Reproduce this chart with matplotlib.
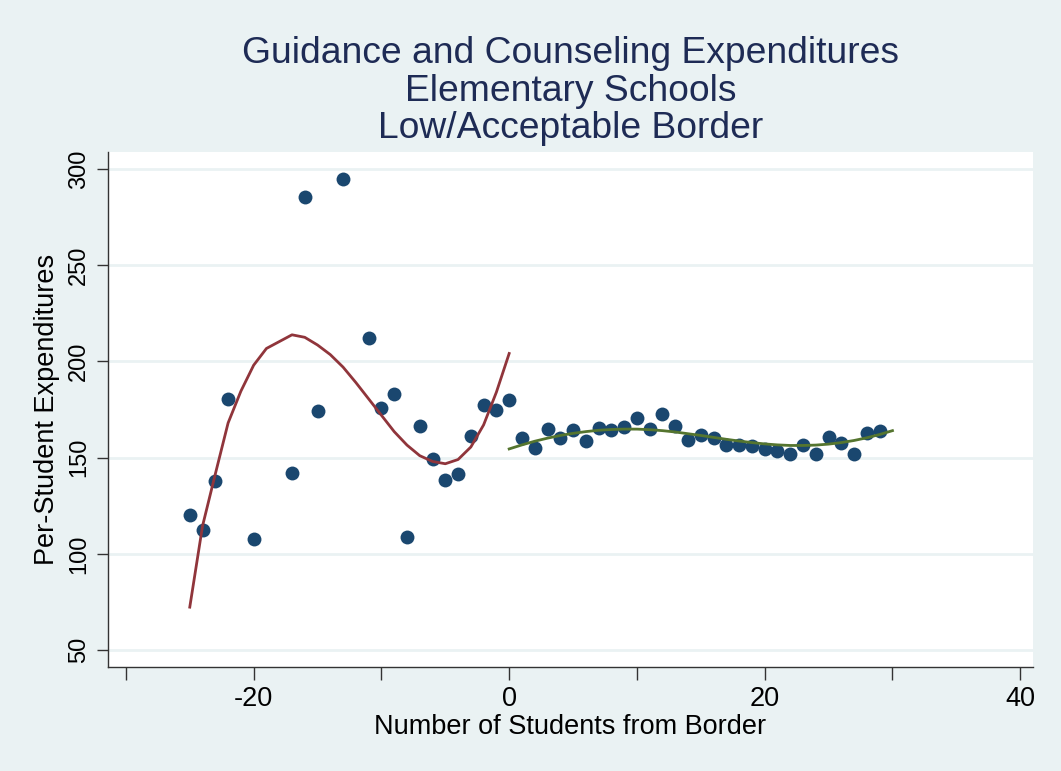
import matplotlib.pyplot as plt

# scatter data (x = students from border, y = per-student expenditures)
left_x = [-25, -24, -23, -22, -20, -17, -16, -15, -13, -11, -10, -9, -8, -7, -6, -5, -4, -3, -2, -1, 0]
left_y = [120.3, 112.2, 137.7, 180.2, 107.8, 142.0, 285.4, 174.1, 295.0, 211.9, 176.0, 182.8, 109.0,
          166.3, 149.5, 138.2, 141.3, 161.0, 177.2, 174.8, 179.7]

right_x = list(range(1, 30))
right_y = [160.2, 155.0, 164.6, 160.2, 164.2, 158.5, 165.4, 164.2, 165.9, 170.6, 164.6, 172.9, 166.4,
           159.0, 161.6, 160.2, 156.8, 156.4, 155.9, 154.7, 153.3, 152.1, 156.4, 152.1, 160.7, 157.8,
           152.1, 163.0, 163.9]

# fitted values
fit_left_x = [-25, -24, -23, -22, -21, -20, -19, -17, -16, -15, -14, -13, -12, -11, -10, -9, -8, -7,
              -6, -5, -4, -3, -2, -1, 0]
fit_left_y = [72.3, 114.5, 141.5, 168.0, 184.5, 198.0, 206.7, 213.8, 212.5, 208.5, 203.5, 197.0, 189.0,
              180.5, 172.0, 163.5, 156.5, 151.0, 148.0, 146.8, 149.0, 155.5, 167.0, 184.0, 204.1]

fit_right_x = list(range(0, 31))
fit_right_y = [154.5, 156.6, 158.5, 160.1, 161.5, 162.6, 163.5, 164.2, 164.6, 164.8, 164.8, 164.5, 164.0,
               163.3, 162.4, 161.5, 160.5, 159.5, 158.6, 157.8, 157.1, 156.6, 156.3, 156.3, 156.5, 157.0,
               157.8, 158.9, 160.3, 162.0, 164.0]

x_ticks = [-30, -20, -10, 0, 10, 20, 30, 40]
x_labels = ['', '-20', '', '0', '', '20', '', '40']
y_ticks = [50, 100, 150, 200, 250, 300]

bg = '#EAF2F3'
plt.rcParams['font.family'] = ['Liberation Sans', 'DejaVu Sans']

fig = plt.figure(figsize=(10.61, 7.71), dpi=100, facecolor=bg)
ax = fig.add_axes([0.1018, 0.1349, 0.8718, 0.668])
ax.set_facecolor('white')

ax.scatter(left_x, left_y, s=100, color='#1A476F', zorder=3, linewidths=0)
ax.scatter(right_x, right_y, s=100, color='#1A476F', zorder=3, linewidths=0)
ax.plot(fit_left_x, fit_left_y, color='#90353B', lw=2.0, zorder=4, solid_joinstyle='round')
ax.plot(fit_right_x, fit_right_y, color='#55752F', lw=2.0, zorder=4, solid_joinstyle='round')

ax.set_xlim(-31.4, 41.0)
ax.set_ylim(41.2, 308.8)
ax.set_xticks(x_ticks)
ax.set_xticklabels(x_labels)
ax.set_yticks(y_ticks)
ax.set_yticklabels([str(v) for v in y_ticks], rotation=90, va='center')
ax.yaxis.grid(True, color=bg, lw=2)
ax.set_axisbelow(True)

for side in ['top', 'right']:
    ax.spines[side].set_visible(False)
for side in ['left', 'bottom']:
    ax.spines[side].set_color('#333333')
    ax.spines[side].set_linewidth(1.0)
ax.tick_params(axis='x', length=9, width=1.0, color='#333333', labelsize=19.5, pad=5)
ax.tick_params(axis='y', length=8, width=1.0, color='#333333', labelsize=17, pad=5)

ax.set_xlabel('Number of Students from Border', fontsize=19.5, labelpad=1)
ax.set_ylabel('Per-Student Expenditures', fontsize=19.5, labelpad=6)

title_color = '#1E2B55'
fig.text(0.538, 0.930, 'Guidance and Counseling Expenditures', ha='center', va='center',
         fontsize=26.8, color=title_color)
fig.text(0.538, 0.881, 'Elementary Schools', ha='center', va='center', fontsize=26.8, color=title_color)
fig.text(0.538, 0.833, 'Low/Acceptable Border', ha='center', va='center', fontsize=26.8, color=title_color)

fig.savefig('out.png', dpi=100, facecolor=bg)
